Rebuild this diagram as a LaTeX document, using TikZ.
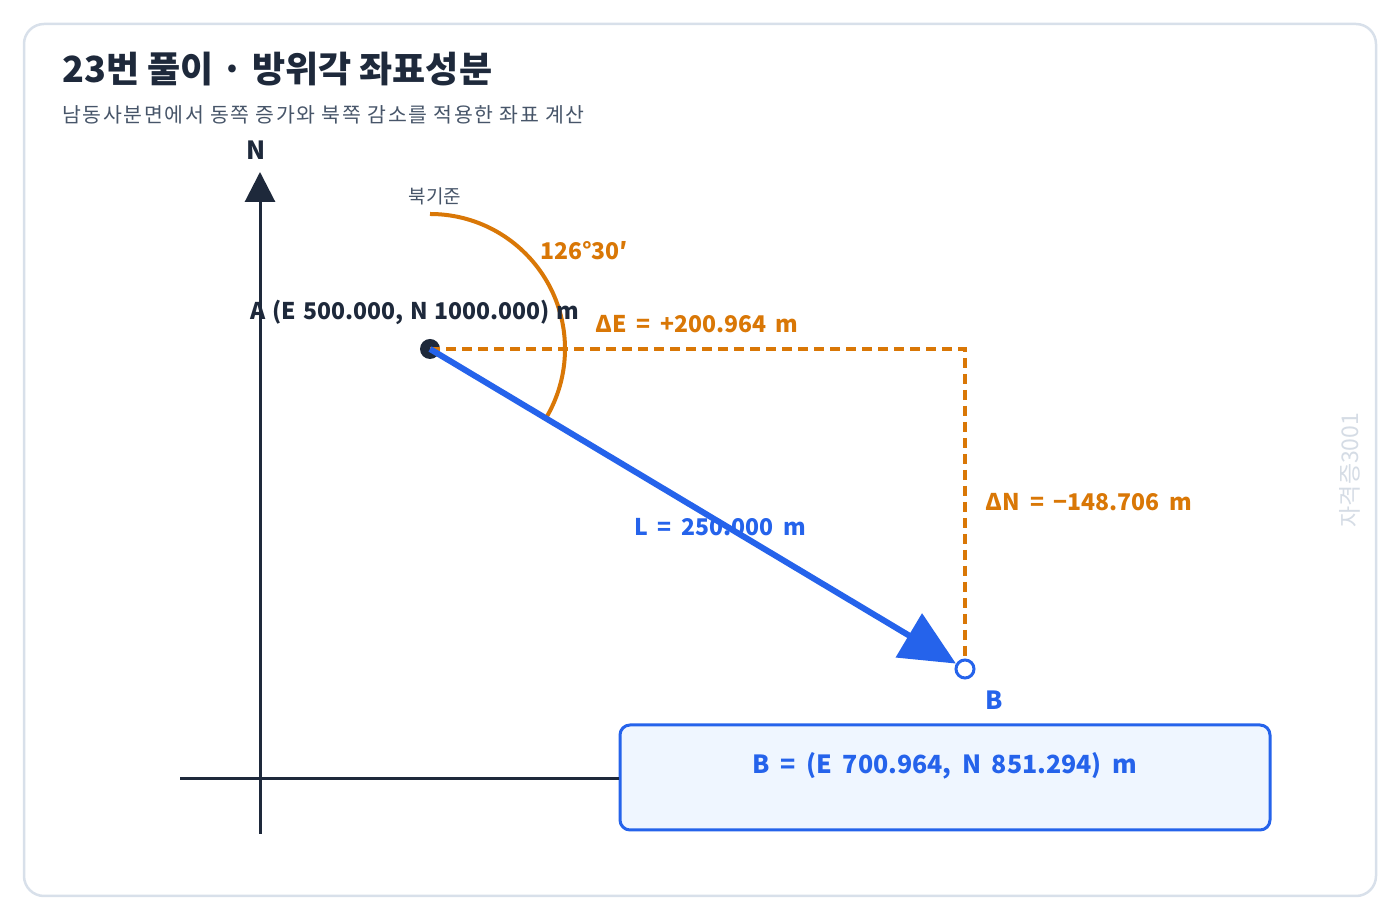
\documentclass[tikz,border=0pt]{standalone}
\usepackage{fontspec}
\setmainfont{Noto Sans CJK KR}
\usetikzlibrary{arrows.meta}

\definecolor{ink}{HTML}{1E293B}
\definecolor{azim}{HTML}{D97706}
\definecolor{leg}{HTML}{2563EB}
\definecolor{legfill}{HTML}{EFF6FF}
\definecolor{framegray}{HTML}{D8E0EA}
\definecolor{subgray}{HTML}{475569}
\definecolor{wmgray}{HTML}{D5DCE5}

\newcommand{\widesp}{\spaceskip = .42em\relax}
\newcommand{\narrowsp}{\spaceskip = .3em\relax}

\tikzset{
  lbl/.style = {inner sep = 0pt,
    font = \bfseries\fontsize{23}{27}\selectfont\widesp},
  biglbl/.style = {inner sep = 0pt,
    font = \bfseries\fontsize{25}{29}\selectfont\widesp},
  deltaline/.style = {azim, line width = 3.2pt, dash pattern = on 10pt off 6pt}
}

\begin{document}
\begin{tikzpicture}[x = 1pt, y = 1pt]
        \useasboundingbox (0,0) rectangle (1400,920);

        % draws the frame
        \draw[framegray, line width = 2.5pt, rounded corners = 20pt, fill = white]
          (24,24) rectangle (1376,896);

        % draws the titles
        \node[anchor = base west, inner sep = 0pt, text = ink,
          font = \bfseries\fontsize{36}{42}\selectfont] (title) at (62,837)
          {23번 풀이 · 방위각 좌표성분};
        \node[anchor = base west, inner sep = 0pt, text = subgray,
          font = \fontsize{20.5}{24}\selectfont\addfontfeature{LetterSpace = 8}]
          (subtitle) at (62,797)
          {남동사분면에서 동쪽 증가와 북쪽 감소를 적용한 좌표 계산};

        % draws the axes
        \coordinate (south) at (260,86);
        \coordinate (north) at (260,748);
        \coordinate (west) at (180,141);
        \draw[ink, line width = 3pt, -{Triangle[length = 30pt, width = 30pt]}]
          (south) -- (north);
        \node[biglbl, text = ink] (Nlabel) at (256,770) {N};

        % draws the result box
        \node[draw = leg, fill = legfill, line width = 3pt, rounded corners = 10pt,
          minimum width = 650pt, minimum height = 105pt, inner sep = 0pt]
          (result) at (945,142.5) {};
        \draw[ink, line width = 3pt] (west) -- (west -| result.west);
        \node[biglbl, text = leg] (resulttext) at (945,154)
          {B = (E 700.964, N 851.294) m};

        % draws the stations
        \node[circle, fill = ink, minimum size = 20pt, inner sep = 0pt] (A) at (430,571) {};
        \node[circle, draw = leg, fill = white, line width = 3pt,
          minimum size = 18pt, inner sep = 0pt] (B) at (965,251) {};
        \coordinate (corner) at (B |- A);

        % draws the components and the azimuth
        \draw[deltaline] (A.center) -- (corner) -- (B);
        \draw[azim, line width = 4pt]
          (A.center) ++(90:135) arc[start angle = 90, end angle = -30.9, radius = 135];
        \draw[leg, line width = 6pt, -{Triangle[length = 55pt, width = 50pt]}]
          (A.center) -- (B);

        % draws the labels
        \node[lbl, text = ink, font = \bfseries\fontsize{23}{27}\selectfont\narrowsp]
          (Alabel) at (415,608) {A (E 500.000, N 1000.000) m};
        \node[inner sep = 0pt, text = subgray, font = \fontsize{19}{23}\selectfont]
          (northref) at (435,724) {북기준};
        \node[lbl, text = azim] (anglabel) at (584,669) {126°30′};
        \node[lbl, text = azim] (dE) at (697,596) {ΔE = +200.964 m};
        \node[lbl, text = azim] (dN) at (1089,418) {ΔN = −148.706 m};
        \node[lbl, text = leg] (Llabel) at (720,393) {L = 250.000 m};
        \node[biglbl, text = leg] (Blabel) at (994,220) {B};
        \node[rotate = 90, inner sep = 0pt, text = wmgray,
          font = \fontsize{23}{27}\selectfont] (watermark) at (1350,450) {자격증3001};
      \end{tikzpicture}
\end{document}
